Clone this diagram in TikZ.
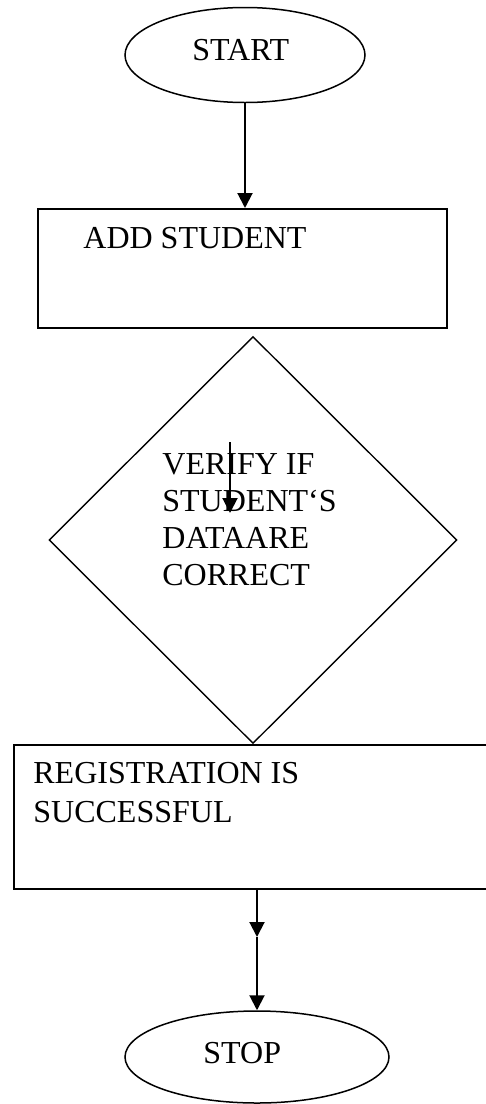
\documentclass[tikz,border=0pt]{standalone}
\usepackage{fontspec}
\setmainfont{Liberation Serif}
\usetikzlibrary{shapes.geometric,arrows.meta}

\begin{document}
\begin{tikzpicture}[x=0.5pt,y=-0.5pt,
  term/.style={ellipse,draw,line width=0.75pt,inner sep=0pt},
  proc/.style={rectangle,draw,line width=1pt,inner sep=0pt},
  decide/.style={diamond,draw,line width=0.7pt,inner sep=0pt},
  txt/.style={inner sep=0pt,font=\fontsize{16}{18.5}\selectfont},
  flow/.style={line width=1pt,-{Triangle[length=7.5pt,width=7.5pt]}}]
\useasboundingbox (0,0) rectangle (486,1104);
\node[term,minimum width=120pt,minimum height=47.5pt] (start) at (245,55) {};
\node[txt,anchor=base west] (starttxt) at (192,60) {START};
\node[proc,minimum width=204.5pt,minimum height=59.5pt] (add) at (242.5,268.5) {};
\node[txt,anchor=base west] (addtxt) at (83,248) {ADD STUDENT};
\node[decide,minimum width=204pt,minimum height=203.5pt] (verify) at (253,540) {};
\node[txt,anchor=north west,align=left] (verifytxt) at (162,453) {VERIFY IF\\STUDENT`S\\DATAARE\\CORRECT};
\node[proc,minimum width=243pt,minimum height=72pt] (reg) at (257,817) {};
\node[txt,anchor=north west,align=left] (regtxt) at (33,762) {REGISTRATION IS\\[1pt]SUCCESSFUL};
\node[term,minimum width=132pt,minimum height=46pt] (stop) at (257,1057) {};
\node[txt,anchor=base west] (stoptxt) at (203,1063) {STOP};
\coordinate (straytop) at (230,442);
\coordinate (straybot) at (230,513);
\coordinate (mid) at (257,937);
\draw[flow] (start.south) -- (start.south |- add.north);
\draw[flow] (straytop) -- (straybot);
\draw[flow] (reg.south) -- (mid);
\draw[flow] (mid) -- (stop.north);
\end{tikzpicture}
\end{document}
